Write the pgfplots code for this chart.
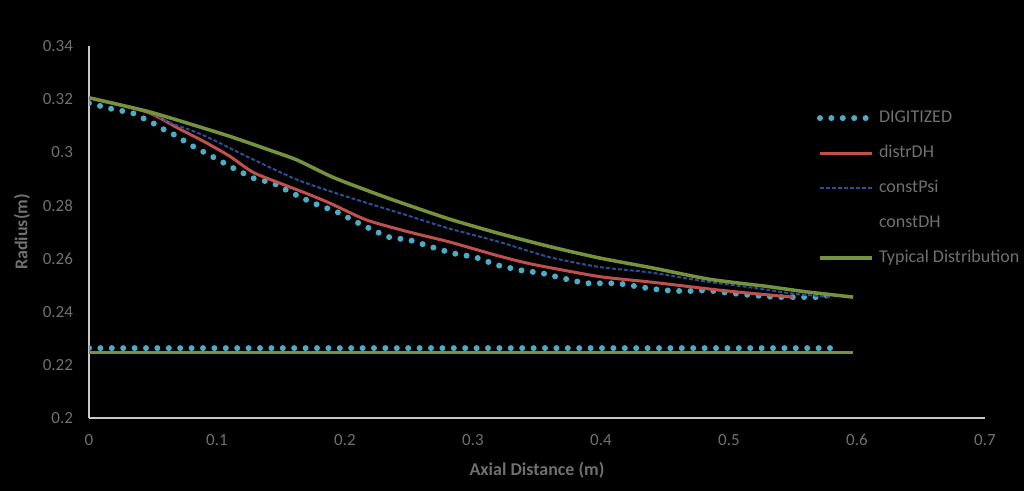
\documentclass[border=0pt]{standalone}
\usepackage{fontspec}
\setmainfont{Carlito}
\usepackage{pgfplots}
\pgfplotsset{compat=1.18}
\usetikzlibrary{calc, backgrounds}
\definecolor{txtgray}{RGB}{112,112,112}
\definecolor{axgray}{RGB}{200,200,200}
\definecolor{digcyan}{RGB}{75,172,198}
\definecolor{distred}{RGB}{192,80,77}
\definecolor{psiblue}{RGB}{40,80,150}
\definecolor{typgreen}{RGB}{118,146,60}
\begin{document}
\begin{tikzpicture}
  \begin{axis}[
    name=ax,
    scale only axis, width=448pt, height=186pt,
    xmin=0, xmax=0.7, ymin=0.2, ymax=0.34,
    axis lines*=left,
    axis line style={axgray, line width=0.9pt, -},
    xtick={0,0.1,...,0.7}, ytick={0.2,0.22,...,0.34},
    xticklabels={0,0.1,0.2,0.3,0.4,0.5,0.6,0.7},
    yticklabels={0.2,0.22,0.24,0.26,0.28,0.3,0.32,0.34},
    major tick length=0pt,
    tick label style={font=\fontsize{8.5}{10}\selectfont, text=txtgray},
    xticklabel style={yshift=-4.5pt},
    yticklabel style={xshift=-4.5pt},
    xlabel={\textbf{Axial Distance (m)}},
    ylabel={\textbf{Radius(m)}},
    label style={font=\fontsize{9}{11}\selectfont, text=txtgray},
    xlabel style={yshift=-1.5pt},
    ylabel style={yshift=-0.5pt},
    legend style={draw=none, fill=none, inner sep=0pt, outer sep=0pt,
      at={(rel axis cs:0.8125,0.8425)}, anchor=north west,
      nodes={text height=7pt, text depth=2.5pt},
      font=\fontsize{9}{11}\selectfont, text=txtgray, row sep=4pt},
    legend cell align=left,
    legend image code/.code={\draw[#1] (0pt,0pt) -- (26pt,0pt);},
  ]
    \addplot[digcyan, line width=3pt, line cap=round, dash pattern=on 0pt off 5.7pt] coordinates {
      (0,0.3185) (0.018,0.3163) (0.034,0.3148) (0.042,0.3129) (0.050,0.3110) (0.058,0.3087)
      (0.067,0.3065) (0.081,0.3023) (0.097,0.2982) (0.1125,0.2941) (0.128,0.2903) (0.144,0.2884)
      (0.159,0.2846) (0.175,0.2809) (0.194,0.2775) (0.209,0.2737) (0.225,0.2700) (0.234,0.2681)
      (0.251,0.2669) (0.268,0.2643) (0.284,0.2620) (0.302,0.2605) (0.319,0.2575) (0.337,0.2556)
      (0.354,0.2545) (0.370,0.2526) (0.3875,0.2507) (0.413,0.2507) (0.432,0.2492) (0.448,0.2481)
      (0.466,0.2477) (0.483,0.2481) (0.501,0.2470) (0.518,0.2462) (0.536,0.2455) (0.554,0.2455)
      (0.571,0.2455) (0.581,0.2466)
    };
    \addlegendentry{DIGITIZED}
    \addplot[distred, line width=1.5pt, smooth, tension=0.4] coordinates {
      (0,0.3205) (0.045,0.3152) (0.071,0.3087) (0.09,0.3040) (0.110,0.2985) (0.128,0.2925)
      (0.149,0.2884) (0.17,0.2845) (0.188,0.2809) (0.217,0.2745) (0.25,0.2700) (0.282,0.2662)
      (0.32,0.2610) (0.347,0.2578) (0.399,0.2532) (0.438,0.2512) (0.491,0.2482) (0.52,0.2468)
      (0.55,0.2455)
    };
    \addlegendentry{distrDH}
    \addplot[psiblue, line width=1pt, dash pattern=on 2pt off 1pt, smooth, tension=0.4] coordinates {
      (0,0.3205) (0.045,0.3152) (0.063,0.3112) (0.084,0.3075) (0.1,0.3040) (0.123,0.2985)
      (0.1625,0.2897) (0.2,0.2835) (0.243,0.2771) (0.28,0.2715) (0.321,0.2662) (0.36,0.2605)
      (0.399,0.2568) (0.438,0.2548) (0.48,0.2515) (0.516,0.2492) (0.55,0.2468) (0.58,0.2455)
    };
    \addlegendentry{constPsi}
    \addplot[draw=none] coordinates {(0,0.3205) (0.58,0.2455)};
    \addlegendentry{constDH}
    \addplot[typgreen, line width=1.75pt, smooth, tension=0.4] coordinates {
      (0,0.3205) (0.045,0.3155) (0.08,0.3105) (0.110,0.3060) (0.14,0.3010) (0.1625,0.2971)
      (0.191,0.2905) (0.227,0.2839) (0.25,0.2800) (0.282,0.2748) (0.32,0.2695) (0.36,0.2645)
      (0.399,0.2602) (0.44,0.2565) (0.485,0.2522) (0.53,0.2495) (0.56,0.2475) (0.597,0.2455)
    };
    \addlegendentry{Typical Distribution}
    \addplot[digcyan, line width=3pt, line cap=round, dash pattern=on 0pt off 5.7pt, forget plot]
      coordinates {(0,0.2263) (0.581,0.2263)};
    \addplot[typgreen, line width=1.75pt, forget plot]
      coordinates {(0,0.2247) (0.597,0.2247)};
  \end{axis}
  \begin{scope}[on background layer]
    \fill[black] ($(ax.south west)+(-44.5pt,-36.5pt)$) rectangle ($(ax.north east)+(19.5pt,23pt)$);
  \end{scope}
\end{tikzpicture}
\end{document}
